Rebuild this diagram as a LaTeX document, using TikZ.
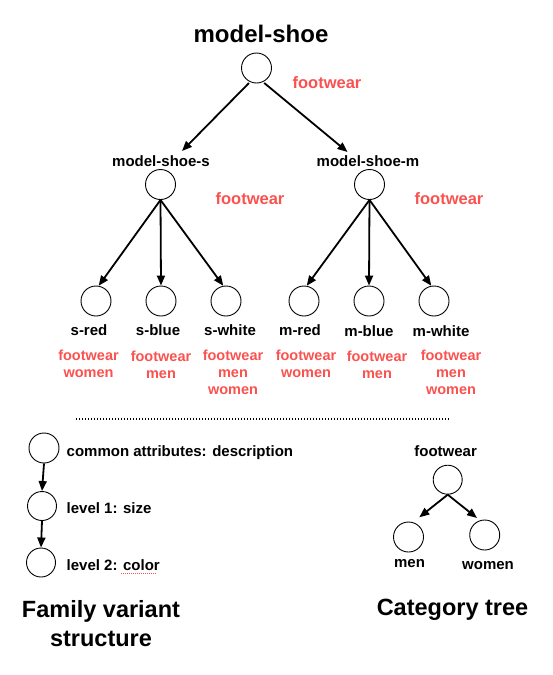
\documentclass[tikz,border=0pt]{standalone}
\usepackage{fontspec}
\setmainfont{Liberation Sans}
\usetikzlibrary{arrows.meta}
\definecolor{attrred}{RGB}{250,82,79}
\begin{document}
\begin{tikzpicture}[x=1pt,y=-1pt,
  every node/.style={inner sep=0pt, font=\bfseries},
  nd/.style={draw, circle, minimum size=30pt, line width=0.9pt},
  arr/.style={-{Triangle[length=10pt,width=8pt]}, line width=1.8pt},
  lbl/.style={anchor=base, font=\bfseries\fontsize{15}{18}\selectfont},
  attr/.style={anchor=north, align=center, text=attrred, font=\bfseries\fontsize{14.5}{17}\selectfont},
  attrbig/.style={anchor=base, text=attrred, font=\bfseries\fontsize{16.5}{20}\selectfont},
  title/.style={font=\bfseries\fontsize{23.5}{29}\selectfont},
]
\useasboundingbox (0,0) rectangle (552,675);

% ---- family tree ----
\node[title, anchor=base, font=\bfseries\fontsize{24}{29}\selectfont] (tname) at (261,42.7) {model-shoe};
\node[nd] (top) at (256.5,68) {};
\node[attrbig] (fwtop) at (327,88.7) {footwear};

\node[lbl] (lblS) at (161,166.5) {model-shoe-s};
\node[nd] (circS) at (160.5,184.5) {};
\node[attrbig] (fwS) at (250,204) {footwear};

\node[lbl] (lblM) at (368,166.5) {model-shoe-m};
\node[nd] (circM) at (369.5,184.5) {};
\node[attrbig] (fwM) at (449,204) {footwear};

\coordinate (tipS) at (182,151);
\coordinate (tipM) at (347.5,152);
\draw[arr, shorten <=1.5pt] (top.245) -- (tipS);
\draw[arr, shorten <=1.5pt] (top.295) -- (tipM);

% leaves
\node[nd] (sred)   at (96,301)  {};
\node[nd] (sblue)  at (161,301) {};
\node[nd] (swhite) at (226,301) {};
\node[nd] (mred)   at (304,301) {};
\node[nd] (mblue)  at (369,301) {};
\node[nd] (mwhite) at (434,301) {};

\draw[arr] (circS.south) -- (sred.80);
\draw[arr] (circS.south) -- (sblue.north);
\draw[arr] (circS.south) -- (swhite.100);
\draw[arr] (circM.south) -- (mred.80);
\draw[arr] (circM.south) -- (mblue.north);
\draw[arr] (circM.south) -- (mwhite.100);

\node[lbl] (lsred)   at (89,335)    {s-red};
\node[lbl] (lsblue)  at (158,335.5) {s-blue};
\node[lbl] (lswhite) at (230,335)   {s-white};
\node[lbl] (lmred)   at (300,335)   {m-red};
\node[lbl] (lmblue)  at (369,336.5) {m-blue};
\node[lbl] (lmwhite) at (441,336)   {m-white};

\node[attr] (asred)   at (88.5,350)  {footwear\\women};
\node[attr] (asblue)  at (161,351)   {footwear\\men};
\node[attr] (aswhite) at (233,349.5) {footwear\\men\\women};
\node[attr] (amred)   at (306,350)   {footwear\\women};
\node[attr] (amblue)  at (377,351)   {footwear\\men};
\node[attr] (amwhite) at (451,349.5) {footwear\\men\\women};

% separator
\draw[line width=1.5pt, dash pattern=on 1.3pt off 1.7pt] (76,419) -- (450,419);

% ---- legend ----
\node[nd] (lg1) at (44,448) {};
\node[nd, minimum size=29pt] (lg2) at (42,506) {};
\node[nd, minimum size=29pt] (lg3) at (41,562.5) {};
\draw[arr] (lg1.south) -- (lg2.north);
\draw[arr] (lg2.south) -- (lg3.north);
\node[lbl, anchor=base west] (t1) at (66.5,456) {common attributes: description};
\node[lbl, anchor=base west] (t2) at (66.5,513.3) {level 1: size};
\node[lbl, anchor=base west] (t3) at (66.5,570) {level 2: color};
\draw[attrred, line width=1pt, dash pattern=on 1pt off 1pt] (121,573.5) -- (156,573.5);

\node[title, anchor=north, align=center] (fvs) at (101,600) {Family variant\\structure};

% ---- category tree ----
\node[lbl] (cfl) at (445.6,456.7) {footwear};
\node[nd, minimum size=29pt] (cf) at (447.7,479.7) {};
\node[nd] (cmen) at (408.5,537) {};
\node[nd] (cwom) at (484.7,535) {};
\coordinate (tipMen) at (419.3,517.3);
\coordinate (tipWom) at (477,518);
\draw[arr] (cf.south) -- (tipMen);
\draw[arr] (cf.south) -- (tipWom);
\node[lbl] (cml) at (409.5,567.7) {men};
\node[lbl] (cwl) at (488,569.3) {women};
\node[title, anchor=base] (ct) at (452.5,615.5) {Category tree};
\end{tikzpicture}
\end{document}
